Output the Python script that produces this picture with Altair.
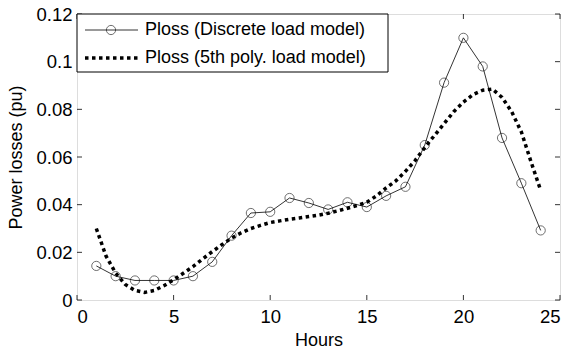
import altair as alt
import pandas as pd

# Discrete load model (hourly)
hours = list(range(1, 25))
ploss_discrete = [0.0143, 0.0100, 0.0082, 0.0082, 0.0082, 0.0100, 0.0160, 0.0270,
                  0.0365, 0.0370, 0.0428, 0.0407, 0.0380, 0.0410, 0.0390, 0.0437,
                  0.0475, 0.0650, 0.0912, 0.1100, 0.0980, 0.0680, 0.0490, 0.0292]

# 5th poly. load model
hours_poly = [1, 1.5, 2, 2.5, 3, 3.5, 4, 4.5, 5, 5.5, 6, 6.5, 7, 7.5, 8, 8.5, 9, 9.5,
              10, 10.5, 11, 11.5, 12, 12.5, 13, 13.5, 14, 14.5, 15, 15.5, 16, 16.5,
              17, 17.5, 18, 18.5, 19, 19.5, 20, 20.5, 21, 21.5, 22, 22.5, 23, 23.5, 24]
ploss_poly = [0.0300, 0.0185, 0.0113, 0.0065, 0.0040, 0.0032, 0.0040, 0.0060, 0.0085,
              0.0112, 0.0140, 0.0172, 0.0203, 0.0232, 0.0260, 0.0282, 0.0300, 0.0313,
              0.0325, 0.0332, 0.0339, 0.0344, 0.0350, 0.0356, 0.0364, 0.0374, 0.0385,
              0.0397, 0.0410, 0.0437, 0.0470, 0.0500, 0.0540, 0.0585, 0.0640, 0.0690,
              0.0740, 0.0790, 0.0830, 0.0862, 0.0880, 0.0885, 0.0850, 0.0790, 0.0705,
              0.0580, 0.0460]

x_ticks = [0, 5, 10, 15, 20, 25]
y_ticks = [0, 0.02, 0.04, 0.06, 0.08, 0.1, 0.12]

legend_labels = ["Ploss (Discrete load model)", "Ploss (5th poly. load model)"]

W, H = 483, 286
FONT = "Liberation Sans"

df_d = pd.DataFrame({"h": hours, "p": ploss_discrete})
df_p = pd.DataFrame({"h": hours_poly, "p": ploss_poly})
df_xt = pd.DataFrame({"t": x_ticks})
df_yt = pd.DataFrame({"t": y_ticks})
one = pd.DataFrame({"a": [0]})

xs = alt.Scale(domain=[0, 25], nice=False)
ys = alt.Scale(domain=[0, 0.12], nice=False)

xax = alt.Axis(values=x_ticks, ticks=False, grid=False, domain=False, labelFontSize=18.5,
               labelFont=FONT, labelColor="black", labelPadding=7, title="Hours",
               titleFontSize=18, titleFont=FONT, titleFontWeight="normal",
               titleColor="black", titlePadding=6, format="d")
yax = alt.Axis(values=y_ticks, ticks=False, grid=False, domain=False, labelFontSize=18.5,
               labelFont=FONT, labelColor="black", labelPadding=5,
               title="Power losses (pu)", titleFontSize=18, titleFont=FONT,
               titleFontWeight="normal", titleColor="black", titlePadding=10,
               labelExpr="datum.value == 0 ? '0' : format(datum.value, '.2~f')")

poly = alt.Chart(df_p).mark_line(color="black", strokeWidth=3.5, strokeDash=[3.5, 3.5]).encode(
    x=alt.X("h:Q", scale=xs, axis=xax),
    y=alt.Y("p:Q", scale=ys, axis=yax),
)
disc_line = alt.Chart(df_d).mark_line(color="black", strokeWidth=0.8).encode(
    x=alt.X("h:Q", scale=xs), y=alt.Y("p:Q", scale=ys))
disc_pts = alt.Chart(df_d).mark_point(shape="circle", size=85, color="black",
                                      filled=False, strokeWidth=0.8).encode(
    x=alt.X("h:Q", scale=xs), y=alt.Y("p:Q", scale=ys))

tl = 5
bt = alt.Chart(df_xt).mark_rule(color="black", strokeWidth=0.8).encode(
    x=alt.X("t:Q", scale=xs), y=alt.value(H), y2=alt.value(H - tl))
tt = alt.Chart(df_xt).mark_rule(color="black", strokeWidth=0.8).encode(
    x=alt.X("t:Q", scale=xs), y=alt.value(0), y2=alt.value(tl))
lt = alt.Chart(df_yt).mark_rule(color="black", strokeWidth=0.8).encode(
    y=alt.Y("t:Q", scale=ys), x=alt.value(0), x2=alt.value(tl))
rt = alt.Chart(df_yt).mark_rule(color="black", strokeWidth=0.8).encode(
    y=alt.Y("t:Q", scale=ys), x=alt.value(W - tl), x2=alt.value(W))

# legend
lbox = alt.Chart(one).mark_rect(fill="white", stroke="black", strokeWidth=1).encode(
    x=alt.value(0), x2=alt.value(311), y=alt.value(0), y2=alt.value(58))
l1 = alt.Chart(one).mark_rule(color="black", strokeWidth=0.8).encode(
    x=alt.value(8), x2=alt.value(61), y=alt.value(16))
l1p = alt.Chart(one).mark_point(shape="circle", size=85, color="black", filled=False,
                                strokeWidth=0.8).encode(x=alt.value(34), y=alt.value(16))
l2 = alt.Chart(one).mark_rule(color="black", strokeWidth=3.5, strokeDash=[3.5, 3.5]).encode(
    x=alt.value(8), x2=alt.value(61), y=alt.value(44))
t1 = alt.Chart(one).mark_text(align="left", baseline="middle", fontSize=18, font=FONT,
                              color="black").encode(
    x=alt.value(68), y=alt.value(16), text=alt.value(legend_labels[0]))
t2 = alt.Chart(one).mark_text(align="left", baseline="middle", fontSize=18, font=FONT,
                              color="black").encode(
    x=alt.value(68), y=alt.value(44), text=alt.value(legend_labels[1]))

chart = alt.layer(poly, disc_line, disc_pts, bt, tt, lt, rt, lbox, l1, l1p, l2, t1, t2).properties(
    width=W, height=H,
    autosize=alt.AutoSizeParams(type="none"),
    padding={"left": 77, "top": 14, "right": 11, "bottom": 52},
).configure_view(stroke="black", strokeWidth=1).configure(background="white")

chart.save("out.html", embed_options={"renderer": "svg", "actions": False})
